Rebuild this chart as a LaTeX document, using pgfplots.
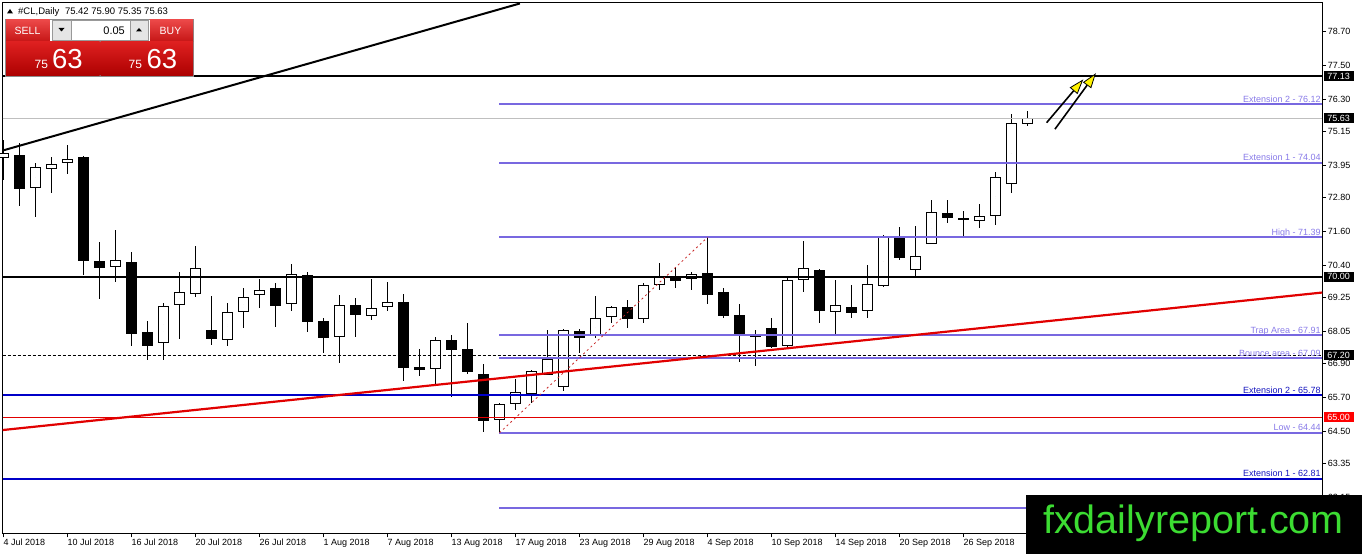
\documentclass[border=0pt]{standalone}
\usepackage{pgfplots}
\pgfplotsset{compat=1.18}
\usepackage{pgfplotstable}
\usepackage{fontspec}
\setmainfont{Liberation Sans}
\usetikzlibrary{arrows.meta}
\definecolor{fibp}{RGB}{120,104,224}
\definecolor{fibt}{RGB}{136,122,232}
\definecolor{extb}{RGB}{0,0,200}
\definecolor{extt}{RGB}{20,20,190}
\definecolor{mtred}{RGB}{225,0,0}
\definecolor{dred}{RGB}{200,40,40}
\definecolor{lgreen}{RGB}{60,220,50}
\definecolor{btop}{RGB}{236,72,72}
\definecolor{bbot}{RGB}{198,22,22}
\definecolor{ptop}{RGB}{222,32,32}
\definecolor{pbot}{RGB}{172,0,0}

\pgfplotstableread{
i o h l c
0 74.21 74.85 73.45 74.39
1 74.32 74.76 72.51 73.11
2 73.16 74.03 72.13 73.88
3 73.83 74.26 72.98 73.99
4 74.03 74.68 73.65 74.17
5 74.24 74.30 70.05 70.56
6 70.54 71.22 69.20 70.31
7 70.35 71.65 69.82 70.58
8 70.51 70.86 67.54 67.97
9 68.03 68.42 67.03 67.54
10 67.63 69.06 67.03 68.94
11 68.98 70.15 67.78 69.44
12 69.37 71.09 69.28 70.30
13 68.10 69.31 67.56 67.78
14 67.75 69.06 67.54 68.73
15 68.75 69.58 68.18 69.26
16 69.35 69.91 68.89 69.51
17 69.58 69.76 68.22 68.96
18 69.01 70.44 68.78 70.08
19 70.04 70.17 68.04 68.39
20 68.42 68.54 67.29 67.82
21 67.84 69.35 66.91 68.98
22 68.98 69.24 67.86 68.64
23 68.61 69.91 68.45 68.87
24 68.91 69.80 68.78 69.08
25 69.09 69.38 66.29 66.76
26 66.78 67.42 66.47 66.69
27 66.70 67.85 66.18 67.74
28 67.74 67.91 65.70 67.38
29 67.42 68.36 66.54 66.60
30 66.53 66.89 64.47 64.87
31 64.91 65.49 64.44 65.47
32 65.46 66.36 65.25 65.88
33 65.83 66.67 65.51 66.64
34 66.51 68.10 66.50 67.07
35 66.08 68.13 65.94 68.10
36 68.06 68.14 67.27 67.82
37 67.87 69.32 67.80 68.51
38 68.55 68.96 68.34 68.90
39 68.90 69.17 68.18 68.50
40 68.50 69.76 68.36 69.70
41 69.69 70.49 69.52 70.02
42 70.02 70.33 69.58 69.85
43 69.90 70.17 69.52 70.08
44 70.11 71.39 69.02 69.34
45 69.44 69.58 68.51 68.61
46 68.63 69.02 66.97 67.88
47 67.91 68.10 66.82 67.84
48 68.17 68.54 67.45 67.50
49 67.53 69.99 67.50 69.88
50 69.88 71.26 69.46 70.29
51 70.23 70.26 68.34 68.78
52 68.75 69.88 67.96 68.98
53 68.90 69.70 68.51 68.71
54 68.78 70.41 68.51 69.72
55 69.66 71.48 69.62 71.44
56 71.38 71.75 70.59 70.67
57 70.22 71.80 69.97 70.72
58 71.14 72.72 71.14 72.28
59 72.25 72.72 71.89 72.07
60 72.09 72.34 71.44 72.03
61 71.99 72.57 71.71 72.16
62 72.16 73.72 71.84 73.53
63 73.28 75.78 72.96 75.45
64 75.42 75.90 75.35 75.63
}\candles

\begin{document}
\begin{tikzpicture}
\begin{axis}[
  at={(2.7pt,20.7pt)}, anchor=south west,
  scale only axis, width=1319.6pt, height=530.6pt,
  xmin=-0.05, xmax=82.425, ymin=60.868, ymax=79.737,
  clip=false,
  axis line style={line width=1pt, black},
  xtick={0,4,...,60},
  xticklabels={4 Jul 2018,10 Jul 2018,16 Jul 2018,20 Jul 2018,26 Jul 2018,1 Aug 2018,7 Aug 2018,13 Aug 2018,17 Aug 2018,23 Aug 2018,29 Aug 2018,4 Sep 2018,10 Sep 2018,14 Sep 2018,20 Sep 2018,26 Sep 2018},
  ytick={78.70,77.50,76.30,75.15,73.95,72.80,71.60,70.40,69.25,68.05,66.90,65.70,64.50,63.35,62.15},
  yticklabels={78.70,77.50,76.30,75.15,73.95,72.80,71.60,70.40,69.25,68.05,66.90,65.70,64.50,63.35,62.15},
  xtick pos=left, ytick pos=right, yticklabel pos=right,
  tick align=outside, major tick length=4pt,
  tick style={black, line width=0.8pt},
  ticklabel style={font=\fontsize{9}{10}\selectfont},
  xticklabel style={anchor=north west, inner sep=0pt, yshift=-1.5pt},
  yticklabel style={anchor=west, inner sep=0pt, xshift=1.5pt},
  candle/.style={only marks, mark size=0pt, mark options={draw=none, fill=none}},
]
% wicks
\addplot[candle, error bars/.cd, y dir=both, y explicit, error mark=none,
  error bar style={draw=black, line width=1pt}]
  table[x=i, y expr={(\thisrow{h}+\thisrow{l})/2}, y error expr={(\thisrow{h}-\thisrow{l})/2}] {\candles};
% bodies (outer black)
\addplot[candle, error bars/.cd, y dir=both, y explicit, error mark=none,
  error bar style={draw=black, line width=10.5pt}]
  table[x=i, y expr={(\thisrow{o}+\thisrow{c})/2}, y error expr={max(abs(\thisrow{c}-\thisrow{o})/2,0.018)}] {\candles};
% bodies (white interior of bullish candles)
\addplot[candle, error bars/.cd, y dir=both, y explicit, error mark=none,
  error bar style={draw=white, line width=8.5pt}]
  table[x=i, y expr={(\thisrow{o}+\thisrow{c})/2}, y error expr={ifthenelse(\thisrow{c}>\thisrow{o}, max((\thisrow{c}-\thisrow{o})/2-0.0356,0), 0)}] {\candles};

% horizontal levels
\addplot[black!25, line width=0.8pt] coordinates {(-0.05,75.63) (82.425,75.63)};
\addplot[black, line width=2pt] coordinates {(-0.05,77.13) (82.425,77.13)};
\addplot[black, line width=2pt] coordinates {(-0.05,70.00) (82.425,70.00)};
\addplot[black, line width=0.9pt, dash pattern=on 3pt off 2pt] coordinates {(-0.05,67.20) (82.425,67.20)};
\addplot[mtred, line width=0.9pt] coordinates {(-0.05,65.00) (82.425,65.00)};
\addplot[extb, line width=2pt] coordinates {(-0.05,65.78) (82.425,65.78)};
\addplot[extb, line width=2pt] coordinates {(-0.05,62.81) (82.425,62.81)};
% fibonacci levels
\addplot[fibp, line width=2pt] coordinates {(31,76.12) (82.425,76.12)};
\addplot[fibp, line width=2pt] coordinates {(31,74.04) (82.425,74.04)};
\addplot[fibp, line width=2pt] coordinates {(31,71.39) (82.425,71.39)};
\addplot[fibp, line width=2pt] coordinates {(31,67.91) (82.425,67.91)};
\addplot[fibp, line width=2pt] coordinates {(31,67.09) (82.425,67.09)};
\addplot[fibp, line width=2pt] coordinates {(31,64.44) (82.425,64.44)};
\addplot[fibp, line width=2pt] coordinates {(31,61.76) (82.425,61.76)};
\addplot[dred, line width=0.8pt, dash pattern=on 2pt off 3pt] coordinates {(31,64.44) (44,71.39)};
% trend lines
\addplot[black, line width=2pt] coordinates {(-0.05,74.48) (32.28,79.71)};
\addplot[mtred, line width=2.2pt] coordinates {(-0.05,64.54) (82.425,69.43)};
% arrows
\addplot[black, line width=1.6pt, -{Triangle[length=15pt,width=10pt,fill=yellow,line width=0.8pt]}] coordinates {(65.2,75.47) (67.49,77.01)};
\addplot[black, line width=1.6pt, -{Triangle[length=15pt,width=10pt,fill=yellow,line width=0.8pt]}] coordinates {(65.72,75.24) (68.28,77.23)};

% level labels
\begin{scope}[every node/.style={anchor=base east, inner sep=0pt, font=\fontsize{9}{10}\selectfont}]
\node[text=fibt] at (axis cs:82.425,76.12) [xshift=-1.3pt, yshift=2pt] {Extension 2 - 76.12};
\node[text=fibt] at (axis cs:82.425,74.04) [xshift=-1.3pt, yshift=2pt] {Extension 1 - 74.04};
\node[text=fibt] at (axis cs:82.425,71.39) [xshift=-1.3pt, yshift=2pt] {High - 71.39};
\node[text=fibt] at (axis cs:82.425,67.91) [xshift=-1.3pt, yshift=2pt] {Trap Area - 67.91};
\node[text=fibt] at (axis cs:82.425,67.09) [xshift=-1.3pt, yshift=2pt] {Bounce area - 67.09};
\node[text=fibt] at (axis cs:82.425,64.44) [xshift=-1.3pt, yshift=2pt] {Low - 64.44};
\node[text=extt] at (axis cs:82.425,65.78) [xshift=-1.3pt, yshift=2pt] {Extension 2 - 65.78};
\node[text=extt] at (axis cs:82.425,62.81) [xshift=-1.3pt, yshift=2pt] {Extension 1 - 62.81};
\end{scope}
% price boxes on the right
\begin{scope}[every node/.style={anchor=west, inner sep=0pt, minimum width=30pt, minimum height=10pt, text=white, font=\fontsize{9}{9}\selectfont}]
\node[fill=black] at (axis cs:82.425,77.13) [xshift=1.2pt] {77.13};
\node[fill=black] at (axis cs:82.425,75.63) [xshift=1.2pt] {75.63};
\node[fill=black] at (axis cs:82.425,70.00) [xshift=1.2pt] {70.00};
\node[fill=black] at (axis cs:82.425,67.20) [xshift=1.2pt] {67.20};
\node[fill=red] at (axis cs:82.425,65.00) [xshift=1.2pt] {65.00};
\end{scope}
\end{axis}

\begin{scope}[shift={(0pt,554pt)}, x=1pt, y=-1pt]
 % header
 \fill[black] (7,13.5)--(13,13.5)--(10,9)--cycle;
 \node[anchor=base west, inner sep=0pt, font=\fontsize{9.5}{10}\selectfont] at (18,15) {\#CL,Daily\hspace{3pt} 75.42 75.90 75.35 75.63};
 % trading panel
 \fill[black!45] (5,19) rectangle (194,77);
 \shade[top color=btop, bottom color=bbot] (6,20) rectangle (49.5,41.5);
 \shade[top color=btop, bottom color=bbot] (149.5,20) rectangle (193,41.5);
 \fill[white] (49.5,20) rectangle (149.5,41.5);
 \draw[black!40, fill=black!10] (52.5,20.5) rectangle (71.5,40.5);
 \draw[black!40, fill=white] (71.5,20.5) rectangle (130,40.5);
 \draw[black!40, fill=black!10] (130,20.5) rectangle (148.5,40.5);
 \fill[black] (58.5,28)--(64.5,28)--(61.5,31.5)--cycle;
 \fill[black] (136,31.5)--(142,31.5)--(139,28)--cycle;
 \node[anchor=base east, inner sep=0pt, font=\fontsize{11}{12}\selectfont] at (125,35) {0.05};
 \node[text=white, inner sep=0pt, font=\fontsize{10.5}{11}\selectfont] at (27.5,30.5) {SELL};
 \node[text=white, inner sep=0pt, font=\fontsize{10.5}{11}\selectfont] at (170.5,30.5) {BUY};
 \shade[top color=ptop, bottom color=pbot] (6,42) rectangle (99.5,76);
 \shade[top color=ptop, bottom color=pbot] (100.5,42) rectangle (193,76);
 \node[text=white, anchor=base west, inner sep=0pt, font=\fontsize{12}{12}\selectfont] at (34.5,68.3) {75};
 \node[text=white, anchor=base west, inner sep=0pt, font=\fontsize{27.5}{28}\selectfont] at (52,68.3) {63};
 \node[text=white, anchor=base west, inner sep=0pt, font=\fontsize{12}{12}\selectfont] at (128.5,68.3) {75};
 \node[text=white, anchor=base west, inner sep=0pt, font=\fontsize{27.5}{28}\selectfont] at (146.5,68.3) {63};
 % logo
 \fill[black] (1026,495) rectangle (1362,554);
 \node[anchor=base, inner sep=0pt, text=lgreen, font=\fontsize{39.5}{40}\selectfont] at (1193.5,533.3) {fxdailyreport.com};
\end{scope}
\pgfresetboundingbox
\path[use as bounding box] (0,0) rectangle (1362pt,554pt);
\end{tikzpicture}
\end{document}
